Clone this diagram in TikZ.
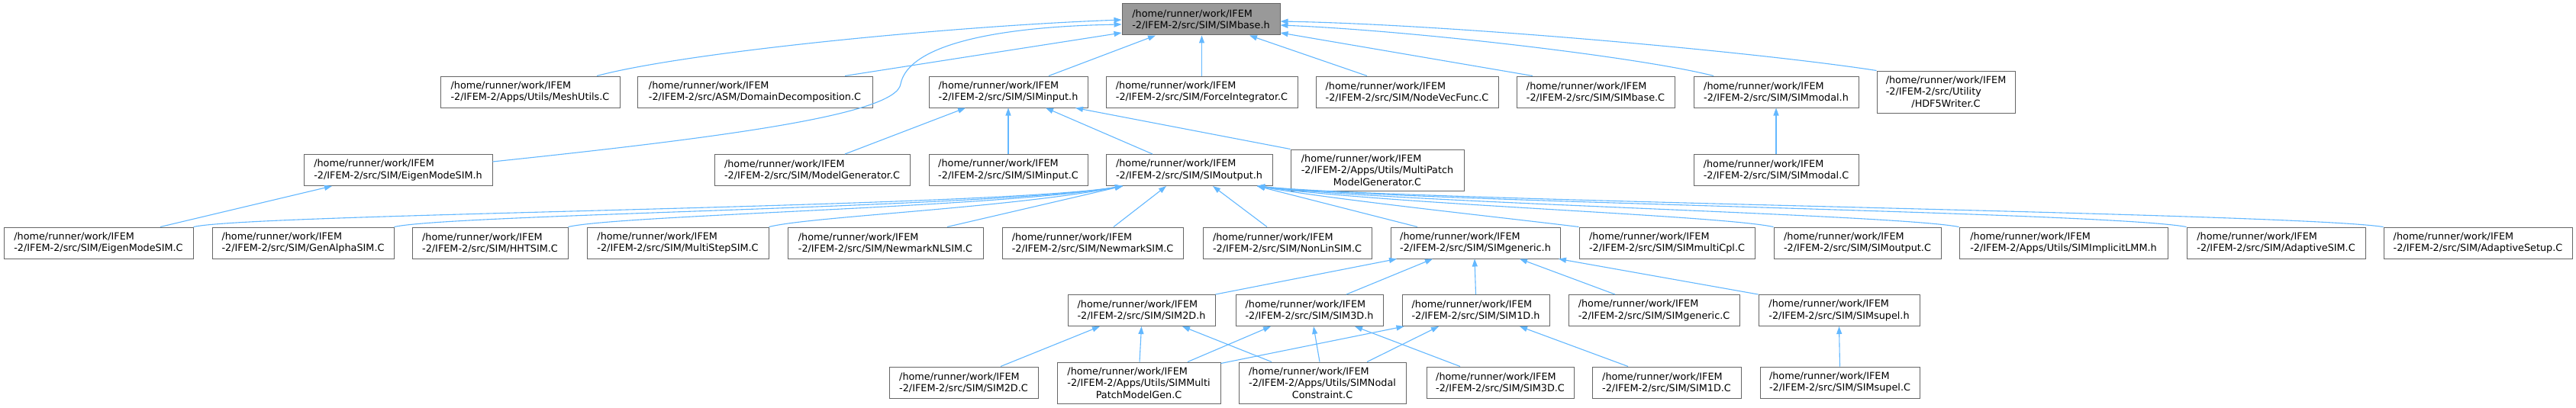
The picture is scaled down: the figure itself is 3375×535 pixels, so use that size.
\documentclass[tikz,border=0pt]{standalone}
\usepackage{fontspec}
\setmainfont{DejaVu Sans}
\usetikzlibrary{arrows.meta,calc}
\definecolor{edgecol}{HTML}{63B8FF}
\definecolor{boxborder}{HTML}{666666}
\definecolor{basefill}{HTML}{999999}
\newcommand\pth[1]{/home/runner/work/IFEM\\#1}
\newlength\tlwa \newlength\tlwb \newlength\tlwg
\newcommand\threelines[3]{\settowidth\tlwa{#1}\settowidth\tlwb{#2}\ifdim\tlwb>\tlwa\tlwa=\tlwb\fi\global\tlwg=\tlwa\makebox[\tlwg][l]{#1}\\\makebox[\tlwg][l]{#2}\\#3}
\begin{document}
\begin{tikzpicture}[x=1pt,y=-1pt,
  nbox/.style={draw=boxborder, fill=white, line width=1pt, inner sep=0pt, minimum width=#1, minimum height=41pt, align=left, font=\fontsize{12.8}{15.3}\selectfont},
  tbox/.style={nbox=#1, align=center, minimum height=54pt},
  dep/.style={draw=edgecol, line width=1.1pt, -{Triangle[length=10pt,width=7pt]}},
]
\useasboundingbox[fill=white] (0,0) rectangle (3375,535);
% row 1
\node[nbox=207pt, fill=basefill] (base) at (1573.5,25.5) {\pth{-2/IFEM-2/src/SIM/SIMbase.h}};
% row 2
\node[nbox=235pt] (meshutils) at (694.5,120.5) {\pth{-2/IFEM-2/Apps/Utils/MeshUtils.C}};
\node[nbox=308pt] (domdec) at (989,120.5) {\pth{-2/IFEM-2/src/ASM/DomainDecomposition.C}};
\node[nbox=208pt] (siminputh) at (1321,120.5) {\pth{-2/IFEM-2/src/SIM/SIMinput.h}};
\node[nbox=251pt] (forceint) at (1574.5,120.5) {\pth{-2/IFEM-2/src/SIM/ForceIntegrator.C}};
\node[nbox=239pt] (nodevec) at (1843.5,120.5) {\pth{-2/IFEM-2/src/SIM/NodeVecFunc.C}};
\node[nbox=207pt] (simbasec) at (2090.5,120.5) {\pth{-2/IFEM-2/src/SIM/SIMbase.C}};
\node[nbox=216pt] (simmodalh) at (2327,120.5) {\pth{-2/IFEM-2/src/SIM/SIMmodal.h}};
\node[tbox=181pt, minimum height=55pt] (hdf5) at (2549.5,120.5) {\threelines{/home/runner/work/IFEM}{-2/IFEM-2/src/Utility}{/HDF5Writer.C}};
% row 3
\node[nbox=247pt] (eigenh) at (521.5,223) {\pth{-2/IFEM-2/src/SIM/EigenModeSIM.h}};
\node[nbox=256pt] (modelgen) at (1064,223) {\pth{-2/IFEM-2/src/SIM/ModelGenerator.C}};
\node[nbox=208pt] (siminputc) at (1321,223) {\pth{-2/IFEM-2/src/SIM/SIMinput.C}};
\node[nbox=218pt] (simoutputh) at (1558,223) {\pth{-2/IFEM-2/src/SIM/SIMoutput.h}};
\node[tbox=227pt] (multipatch) at (1804.5,223) {\threelines{/home/runner/work/IFEM}{-2/IFEM-2/Apps/Utils/MultiPatch}{ModelGenerator.C}};
\node[nbox=216pt] (simmodalc) at (2327,223) {\pth{-2/IFEM-2/src/SIM/SIMmodal.C}};
% row 4
\node[nbox=248pt] (eigenc) at (129,318.5) {\pth{-2/IFEM-2/src/SIM/EigenModeSIM.C}};
\node[nbox=238pt] (genalpha) at (397,318.5) {\pth{-2/IFEM-2/src/SIM/GenAlphaSIM.C}};
\node[nbox=204pt] (hht) at (642,318.5) {\pth{-2/IFEM-2/src/SIM/HHTSIM.C}};
\node[nbox=238pt] (multistep) at (888,318.5) {\pth{-2/IFEM-2/src/SIM/MultiStepSIM.C}};
\node[nbox=256pt] (newmarknl) at (1160,318.5) {\pth{-2/IFEM-2/src/SIM/NewmarkNLSIM.C}};
\node[nbox=237pt] (newmark) at (1431.5,318.5) {\pth{-2/IFEM-2/src/SIM/NewmarkSIM.C}};
\node[nbox=221pt] (nonlin) at (1686.5,318.5) {\pth{-2/IFEM-2/src/SIM/NonLinSIM.C}};
\node[nbox=222pt] (genericH) at (1933,318.5) {\pth{-2/IFEM-2/src/SIM/SIMgeneric.h}};
\node[nbox=230pt] (multicpl) at (2184,318.5) {\pth{-2/IFEM-2/src/SIM/SIMmultiCpl.C}};
\node[nbox=219pt] (simoutputc) at (2433.5,318.5) {\pth{-2/IFEM-2/src/SIM/SIMoutput.C}};
\node[nbox=273pt] (implicitlmm) at (2703.5,318.5) {\pth{-2/IFEM-2/Apps/Utils/SIMImplicitLMM.h}};
\node[nbox=234pt] (adaptivesim) at (2982,318.5) {\pth{-2/IFEM-2/src/SIM/AdaptiveSIM.C}};
\node[nbox=247pt] (adaptivesetup) at (3246.5,318.5) {\pth{-2/IFEM-2/src/SIM/AdaptiveSetup.C}};
% row 5
\node[nbox=193pt] (sim2dh) at (1495.5,407) {\pth{-2/IFEM-2/src/SIM/SIM2D.h}};
\node[nbox=193pt] (sim3dh) at (1715.5,407) {\pth{-2/IFEM-2/src/SIM/SIM3D.h}};
\node[nbox=193pt] (sim1dh) at (1933.5,407) {\pth{-2/IFEM-2/src/SIM/SIM1D.h}};
\node[nbox=224pt] (genericC) at (2167,407) {\pth{-2/IFEM-2/src/SIM/SIMgeneric.C}};
\node[nbox=211pt] (supelh) at (2409.5,407) {\pth{-2/IFEM-2/src/SIM/SIMsupel.h}};
% row 6
\node[nbox=195pt] (sim2dc) at (1262.5,501.5) {\pth{-2/IFEM-2/src/SIM/SIM2D.C}};
\node[tbox=214pt] (smpmg) at (1492,502) {\threelines{/home/runner/work/IFEM}{-2/IFEM-2/Apps/Utils/SIMMulti}{PatchModelGen.C}};
\node[tbox=219pt] (snc) at (1732.5,502) {\threelines{/home/runner/work/IFEM}{-2/IFEM-2/Apps/Utils/SIMNodal}{Constraint.C}};
\node[nbox=193pt] (sim3dc) at (1965.5,501.5) {\pth{-2/IFEM-2/src/SIM/SIM3D.C}};
\node[nbox=195pt] (sim1dc) at (2183.5,501.5) {\pth{-2/IFEM-2/src/SIM/SIM1D.C}};
\node[nbox=209pt] (supelc) at (2410.5,501.5) {\pth{-2/IFEM-2/src/SIM/SIMsupel.C}};

% edges into SIMbase.h
\draw[dep] ($(meshutils.north)+(87.5,0)$) .. controls (900,68) and (1250,34) .. ($(base.west)+(0,0.5)$);
\draw[dep] ($(eigenh.east)+(0,-11)$) .. controls (950,180) and (1175,150) .. (1180,110) .. controls (1190,60) and (1300,35) .. ($(base.west)+(0,6.5)$);
\draw[dep] ($(domdec.north)+(118,0)$) -- ($(base.west)+(0,17.5)$);
\draw[dep] ($(siminputh.north)+(53,0)$) -- ($(base.south)+(-59.5,0)$);
\draw[dep] (forceint.north) -- ($(base.south)+(1,0)$);
\draw[dep] ($(nodevec.north)+(-52.5,0)$) -- ($(base.south)+(63.5,0)$);
\draw[dep] ($(simbasec.north)+(-82.5,0)$) -- ($(base.east)+(0,17.5)$);
\draw[dep] ($(simmodalh.north)+(-82,0)$) .. controls (2150,75) and (1850,40) .. ($(base.east)+(0,7.5)$);
\draw[dep] (hdf5.north west) .. controls (2300,68) and (1900,32) .. ($(base.east)+(0,2.5)$);
% edges into SIMinput.h
\draw[dep] ($(modelgen.north)+(43,0)$) -- ($(siminputh.south)+(-56,0)$);
\draw[dep] (siminputc.north) -- (siminputh.south);
\draw[dep] ($(simoutputh.north)+(-48,0)$) -- ($(siminputh.south)+(49,0)$);
\draw[dep] (multipatch.north west) -- ($(siminputh.south)+(88,0)$);
% other single edges
\draw[dep] ($(eigenc.north)+(81,0)$) -- ($(eigenh.south)+(-86.5,0)$);
\draw[dep] (simmodalc.north) -- (simmodalh.south);
\draw[dep] (supelc.north) -- (supelh.south);
% edges into SIMoutput.h
\draw[dep] (eigenc.north east) .. controls (330,280) and (1300,272) .. ($(simoutputh.south)+(-87,0)$);
\draw[dep] (genalpha.north east) .. controls (590,281) and (1305,272) .. ($(simoutputh.south)+(-87,0)$);
\draw[dep] (hht.north east) .. controls (810,282) and (1310,272) .. ($(simoutputh.south)+(-87,0)$);
\draw[dep] (multistep.north east) .. controls (1060,284) and (1320,273) .. ($(simoutputh.south)+(-87,0)$);
\draw[dep] ($(newmarknl.north)+(81,0)$) -- ($(simoutputh.south)+(-87,0)$);
\draw[dep] ($(newmark.north)+(27.5,0)$) -- ($(simoutputh.south)+(-30,0)$);
\draw[dep] ($(nonlin.north)+(-26.5,0)$) -- ($(simoutputh.south)+(31,0)$);
\draw[dep] ($(genericH.north)+(-76,0)$) -- ($(simoutputh.south)+(89,0)$);
\draw[dep] (multicpl.north west) .. controls (1950,283) and (1750,262) .. ($(simoutputh.south)+(89,0)$);
\draw[dep] (simoutputc.north west) .. controls (2250,282) and (1820,268) .. ($(simoutputh.south)+(89,0)$);
\draw[dep] (implicitlmm.north west) .. controls (2480,281) and (1830,266) .. ($(simoutputh.south)+(89,0)$);
\draw[dep] (adaptivesim.north west) .. controls (2760,278) and (1840,265) .. ($(simoutputh.south)+(89,0)$);
\draw[dep] (adaptivesetup.north west) .. controls (3000,279) and (1850,264) .. ($(simoutputh.south)+(89,0)$);
% edges into SIMgeneric.h
\draw[dep] (sim2dh.north east) -- ($(genericH.south)+(-103,0)$);
\draw[dep] ($(sim3dh.north)+(48.5,0)$) -- ($(genericH.south)+(-56,0)$);
\draw[dep] (sim1dh.north) -- ($(genericH.south)+(-1,0)$);
\draw[dep] ($(genericC.north)+(-51,0)$) -- ($(genericH.south)+(58,0)$);
\draw[dep] (supelh.north west) -- ($(genericH.south)+(109,0)$);
% edges into SIM2D.h
\draw[dep] ($(sim2dc.north)+(48.5,0)$) -- ($(sim2dh.south)+(-54.5,0)$);
\draw[dep] ($(smpmg.north)+(1,0)$) -- (sim2dh.south);
\draw[dep] ($(snc.north)+(-66.5,0)$) -- ($(sim2dh.south)+(53.5,0)$);
% edges into SIM3D.h
\draw[dep] ($(smpmg.north)+(64,0)$) -- ($(sim3dh.south)+(-50.5,0)$);
\draw[dep] ($(snc.north)+(-3.5,0)$) -- ($(sim3dh.south)+(5.5,0)$);
\draw[dep] ($(sim3dc.north)+(-52.5,0)$) -- ($(sim3dh.south)+(59.5,0)$);
% edges into SIM1D.h
\draw[dep] ($(smpmg.north east)+(0,2)$) -- ($(sim1dh.south west)+(3,0)$);
\draw[dep] ($(snc.north)+(58.5,0)$) -- ($(sim1dh.south)+(-48.5,0)$);
\draw[dep] ($(sim1dc.north)+(-50.5,0)$) -- ($(sim1dh.south)+(57.5,0)$);
\end{tikzpicture}
\end{document}
